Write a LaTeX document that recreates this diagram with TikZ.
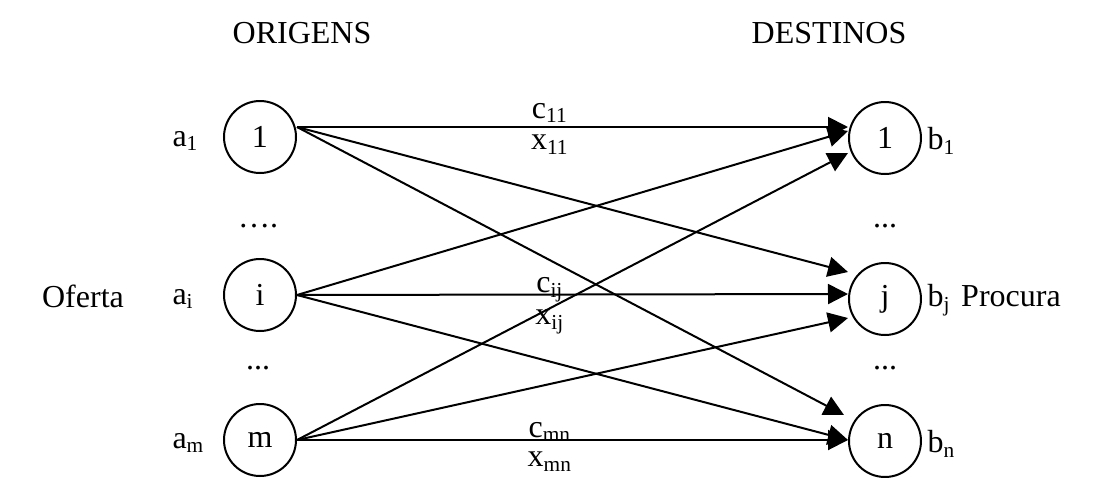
\documentclass[tikz,border=0pt]{standalone}
\usepackage{fontspec}
\setmainfont{Liberation Serif}
\usetikzlibrary{arrows.meta,calc}
\begin{document}
\begin{tikzpicture}[x=0.375pt,y=-0.375pt,
  nd/.style={draw,circle,line width=0.75pt,minimum size=27pt,inner sep=0pt,font=\fontsize{12}{14}\selectfont},
  lbl/.style={inner sep=0pt,font=\fontsize{12}{14}\selectfont},
  arr/.style={line width=0.75pt,-{Triangle[length=7.5pt,width=7.5pt]}}]
\useasboundingbox (0,0) rectangle (1099,477);
% headers
\node[lbl] (org) at (302,33) {ORIGENS};
\node[lbl] (dst) at (829,33) {DESTINOS};
\node[lbl] (of) at (83,296) {Oferta};
\node[lbl] (pr) at (1011,296) {Procura};
% circles
\node[nd] (l1) at (260,137) {1};
\node[nd] (li) at (260,295) {i};
\node[nd] (lm) at (260,440) {m};
\node[nd] (r1) at (885,138) {1};
\node[nd] (rj) at (885,299) {j};
\node[nd] (rn) at (885,441) {n};
% side labels
\node[lbl,anchor=west] (a1) at (172,141) {a\textsubscript{1}};
\node[lbl,anchor=west] (ai) at (172,299) {a\textsubscript{i}};
\node[lbl,anchor=west] (am) at (172,443) {a\textsubscript{m}};
\node[lbl,anchor=west] (b1) at (927,141) {b\textsubscript{1}};
\node[lbl,anchor=west] (bj) at (927,300) {b\textsubscript{j}};
\node[lbl,anchor=west] (bn) at (927,444) {b\textsubscript{n}};
% dots
\node[lbl] (d1) at (258,226) {….};
\node[lbl] (d2) at (258,368) {...};
\node[lbl] (d3) at (885,226) {...};
\node[lbl] (d4) at (885,368) {...};
% arrows
\draw[arr] ($(l1.east)+(0,-10)$) -- ($(r1.west)+(0,-11)$);
\draw[arr] ($(l1.east)+(0,-10)$) -- ($(rj.west)+(0,-27)$);
\draw[arr] ($(l1.east)+(0,-10)$) -- ($(rn.west)+(-4,-26)$);
\draw[arr] (li.east) -- ($(r1.west)+(0,-7)$);
\draw[arr] (li.east) -- ($(rj.west)+(0,-5)$);
\draw[arr] (li.east) -- ($(rn.west)+(0,-1)$);
\draw[arr] (lm.east) -- ($(r1.west)+(0,15)$);
\draw[arr] (lm.east) -- ($(rj.west)+(0,19)$);
\draw[arr] (lm.east) -- ($(rn.west)+(0,-1)$);
% arc labels
\node[lbl] (c11) at (550,113) {c\textsubscript{11}};
\node[lbl] (x11) at (550,145) {x\textsubscript{11}};
\node[lbl] (cij) at (550,290) {c\textsubscript{ij}};
\node[lbl] (xij) at (550,322) {x\textsubscript{ij}};
\node[lbl] (cmn) at (550,432) {c\textsubscript{mn}};
\node[lbl] (xmn) at (550,462) {x\textsubscript{mn}};
\end{tikzpicture}
\end{document}
